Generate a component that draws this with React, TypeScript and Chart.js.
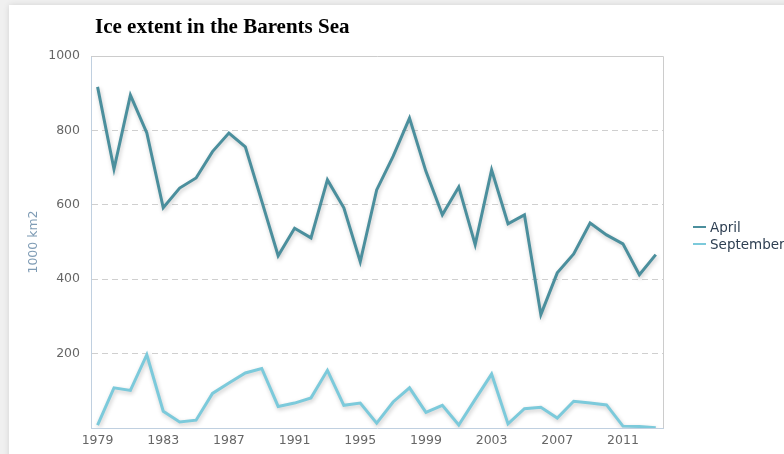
import React, { useEffect, useRef } from "react";
import { Chart, registerables } from "chart.js";

Chart.register(...registerables);

const years = [1979, 1980, 1981, 1982, 1983, 1984, 1985, 1986, 1987, 1988, 1989, 1990, 1991, 1992, 1993, 1994, 1995, 1996, 1997, 1998, 1999, 2000, 2001, 2002, 2003, 2004, 2005, 2006, 2007, 2008, 2009, 2010, 2011, 2012, 2013];
const april = [917, 696, 895, 793, 592, 645, 672, 743, 793, 756, 610, 463, 537, 511, 667, 592, 447, 640, 730, 833, 690, 573, 648, 493, 694, 549, 573, 305, 417, 468, 551, 519, 495, 412, 466];
const september = [8, 108, 101, 197, 45, 16, 21, 93, 121, 148, 160, 58, 67, 81, 155, 61, 67, 13, 70, 108, 42, 61, 8, 77, 145, 11, 52, 56, 27, 72, 67, 62, 5, 4, 1];
const xTickLabels = [1979, 1983, 1987, 1991, 1995, 1999, 2003, 2007, 2011];
const yTicks = [0, 200, 400, 600, 800, 1000];
const seriesNames = ["April", "September"];
const seriesColors = ["#4b8f9d", "#7ccadb"];
const chartTitle = "Ice extent in the Barents Sea";
const yAxisTitle = "1000 km2";

const W = 784;
const H = 454;

const shadowPlugin = {
  id: "lineShadow",
  beforeDatasetsDraw(chart: any) {
    const ctx = chart.ctx;
    ctx.save();
    ctx.shadowColor = "rgba(0,0,0,0.22)";
    ctx.shadowBlur = 4;
    ctx.shadowOffsetX = 1;
    ctx.shadowOffsetY = 2;
  },
  afterDatasetsDraw(chart: any) {
    chart.ctx.restore();
  },
};

const framePlugin = {
  id: "frame",
  beforeDatasetsDraw(chart: any) {
    const { ctx, chartArea } = chart;
    ctx.save();
    ctx.strokeStyle = "#cccccc";
    ctx.lineWidth = 1;
    ctx.beginPath();
    ctx.moveTo(chartArea.left, chartArea.top + 0.5);
    ctx.lineTo(chartArea.right + 0.5, chartArea.top + 0.5);
    ctx.lineTo(chartArea.right + 0.5, chartArea.bottom);
    ctx.stroke();
    ctx.restore();
  },
  afterDraw(chart: any) {
    const { ctx, chartArea } = chart;
    ctx.save();
    // title
    ctx.fillStyle = "#000000";
    ctx.font = "bold 21px 'Liberation Serif', 'Times New Roman', serif";
    ctx.textBaseline = "middle";
    ctx.textAlign = "left";
    ctx.fillText(chartTitle, chartArea.left + 4, 28);
    // legend
    const lx = chartArea.right + 30;
    const ly = [227, 244];
    ctx.font = "13.5px 'DejaVu Sans', Verdana, sans-serif";
    seriesNames.forEach((name, i) => {
      ctx.strokeStyle = seriesColors[i];
      ctx.lineWidth = 2;
      ctx.beginPath();
      ctx.moveTo(lx, ly[i]);
      ctx.lineTo(lx + 13, ly[i]);
      ctx.stroke();
      ctx.fillStyle = "#2e3f52";
      ctx.fillText(name, lx + 17, ly[i] + 1);
    });
    ctx.restore();
  },
};

export default function App() {
  const ref = useRef<HTMLCanvasElement | null>(null);

  useEffect(() => {
    if (!ref.current) return;
    const chart = new Chart(ref.current, {
      type: "line",
      data: {
        datasets: [
          {
            label: seriesNames[0],
            data: years.map((y, i) => ({ x: y, y: april[i] })),
            borderColor: seriesColors[0],
            borderWidth: 3,
            pointRadius: 0,
            tension: 0,
          },
          {
            label: seriesNames[1],
            data: years.map((y, i) => ({ x: y, y: september[i] })),
            borderColor: seriesColors[1],
            borderWidth: 3,
            pointRadius: 0,
            tension: 0,
          },
        ],
      },
      options: {
        animation: false,
        responsive: false,
        devicePixelRatio: 1,
        layout: { padding: { top: 56, right: 121, bottom: 0, left: 0 } },
        plugins: {
          legend: { display: false },
          title: { display: false },
          tooltip: { enabled: false },
        },
        scales: {
          x: {
            type: "linear",
            min: 1978.6,
            max: 2013.44,
            afterBuildTicks: (scale: any) => {
              scale.ticks = xTickLabels.map((v) => ({ value: v }));
            },
            afterFit: (scale: any) => {
              scale.height = 26;
            },
            grid: { display: false, drawTicks: false },
            border: { display: true, color: "#c0d0e0", width: 1 },
            ticks: {
              autoSkip: false,
              maxRotation: 0,
              padding: 5,
              color: "#666666",
              font: { family: "'DejaVu Sans', Verdana, sans-serif", size: 12.5 },
              callback: (v: any) => String(v),
            },
          },
          y: {
            type: "linear",
            min: 0,
            max: 1000,
            afterBuildTicks: (scale: any) => {
              scale.ticks = yTicks.map((v) => ({ value: v }));
            },
            afterFit: (scale: any) => {
              scale.width = 91;
            },
            grid: {
              drawTicks: false,
              color: (c: any) =>
                c.tick && c.tick.value > 0 && c.tick.value < 1000 ? "#cfcfcf" : "rgba(0,0,0,0)",
              lineWidth: 1,
            },
            border: { display: true, color: "#c0d0e0", width: 1, dash: [6, 4] },
            title: {
              display: true,
              text: yAxisTitle,
              color: "#7f9cb5",
              font: { family: "'DejaVu Sans', Verdana, sans-serif", size: 12.5 },
              padding: { top: 26, bottom: 0 },
            },
            ticks: {
              padding: 11,
              color: "#666666",
              font: { family: "'DejaVu Sans', Verdana, sans-serif", size: 12.5 },
              callback: (v: any) => (v === 0 ? "" : String(v)),
            },
          },
        },
      },
      plugins: [framePlugin, shadowPlugin],
    } as any);
    return () => chart.destroy();
  }, []);

  return (
    <div style={{ position: "fixed", left: 0, top: 0, width: W, height: H, background: "#f0f0f0", overflow: "hidden" }}>
      <div
        style={{
          position: "absolute",
          left: 9,
          top: 5,
          width: W + 20,
          height: H + 20,
          background: "#ffffff",
          boxShadow: "0 0 6px rgba(0,0,0,0.12)",
        }}
      />
      <canvas ref={ref} width={W} height={H} style={{ position: "absolute", left: 0, top: 0, width: W, height: H }} />
    </div>
  );
}
